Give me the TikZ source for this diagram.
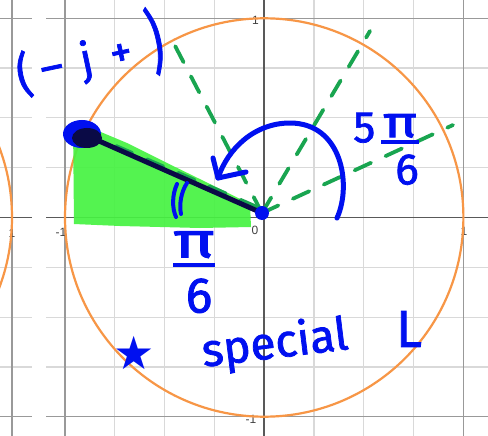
\documentclass[tikz,border=0pt]{standalone}
\usepackage{fontspec}
\setmainfont{Liberation Sans}
\newfontfamily\handfont{Fira Sans}[FakeBold=1.6]
\newfontfamily\symbfont{DejaVu Sans}
\definecolor{penblue}{RGB}{0,16,240}
\definecolor{inknavy}{RGB}{10,10,70}
\definecolor{hlgreen}{RGB}{70,242,66}
\definecolor{dashgreen}{RGB}{25,165,80}
\definecolor{circorange}{RGB}{247,150,70}
\begin{document}
\begin{tikzpicture}[x=1pt,y=-1pt,
  minor/.style={draw=black!15,line width=1.2pt},
  major/.style={draw=black!40,line width=1.2pt},
  axis/.style={draw=black!65,line width=1.8pt},
  tick/.style={font=\fontsize{12}{12}\selectfont,text=black!75,inner sep=0pt},
  pen/.style={draw=penblue,line width=5pt,line cap=round,line join=round},
  hint/.style={draw=dashgreen,line width=3.8pt,line cap=round,dash pattern=on 18pt off 16pt},
  hand/.style={text=penblue,font=\handfont\fontsize{#1}{#1}\selectfont,inner sep=0pt},
]
\useasboundingbox[fill=white] (0,0) rectangle (488,436);
% grid, left strip
\foreach \k in {-3,...,-1,1,2,3} \draw[minor] (0,{217.5+\k*49.8}) -- (32,{217.5+\k*49.8});
\foreach \k in {-4,4} \draw[major] (0,{217.5+\k*49.8}) -- (32,{217.5+\k*49.8});
\draw[major] (12,0) -- (12,436);
\draw[axis] (0,217.5) -- (32,217.5);
% grid, main
\foreach \k in {-3,-2,-1,1,2,3} {
  \draw[minor] ({264.2+\k*49.8},0) -- ({264.2+\k*49.8},436);
  \draw[minor] (46,{217.5+\k*49.8}) -- (488,{217.5+\k*49.8});
}
\foreach \k in {-4,4} {
  \draw[major] ({264.2+\k*49.8},0) -- ({264.2+\k*49.8},436);
  \draw[major] (46,{217.5+\k*49.8}) -- (488,{217.5+\k*49.8});
}
\draw[axis] (46,217.5) -- (488,217.5);
\draw[axis] (264.2,0) -- (264.2,436);
% tick labels
\node[tick] (t1) at (12,233) {1};
\node[tick] (tm1x) at (61,232) {-1};
\node[tick] (t0) at (255,230) {0};
\node[tick] (t1x) at (464,231) {1};
\node[tick] (t1y) at (255.5,20) {1};
\node[tick] (tm1y) at (251,419) {-1};
% circles
\begin{scope}
\clip (0,0) rectangle (32,436);
\draw[circorange,line width=2.2pt] (-187.2,217.5) circle[radius=199.2];
\end{scope}
\draw[circorange,line width=2.2pt] (264.2,217.5) circle[radius=199.2];
% highlighted triangle
\fill[hlgreen,opacity=0.92] (73,124) -- (96,130) -- (127,143) -- (165,162) -- (210,184) -- (250,204)
  -- (251,227) -- (200,228) -- (120,226) -- (74,224) -- cycle;
% points
\coordinate (O) at (262,213);
\coordinate (P) at (90,137);
\coordinate (d1) at (172,40);
\coordinate (d2) at (370,31);
\coordinate (d3) at (453,125);
\coordinate (d4) at (116,146);
\coordinate (d0) at (257,207);
\draw[hint] (O) -- (d1);
\draw[hint] (O) -- (d2);
\draw[hint] (O) -- (d3);
\draw[hint] (d0) -- (d4);
% terminal side
\draw[inknavy,line width=5pt,line cap=round] (O) -- (P);
\fill[penblue] (82,134) ellipse[x radius=19,y radius=14];
\fill[inknavy] (87,138) ellipse[x radius=15,y radius=10];
\fill[penblue] (O) circle[radius=7];
% rotation arrow
\coordinate (a0) at (337,218);
\coordinate (tip) at (218,178);
\coordinate (b1) at (213,158);
\coordinate (b2) at (246,172);
\draw[pen] (a0) .. controls (352,185) and (342,123) .. (290,123) .. controls (255,123) and (228,148) .. (tip);
\draw[pen] (b1) -- (tip) -- (b2);
% angle marks
\draw[pen,line width=4pt] (177,184) .. controls (172,195) and (172,208) .. (176,217);
\draw[pen,line width=4pt] (187,183) .. controls (181,192) and (179,205) .. (181,214);
% handwriting
\node[hand=44,rotate=12] (quad) at (89,55) {\raisebox{-4pt}{\scalebox{1}[1.1]{(}}\hspace{10pt}–\hspace{18pt}j\hspace{18pt}+\hspace{18pt}\raisebox{-6pt}{\scalebox{1}[1.6]{)}}};
\node[hand=44] (ang) at (386,152) {\raisebox{16pt}{5}\hspace{6pt}{\setlength\arrayrulewidth{4pt}\begin{tabular}{@{}c@{}}\scalebox{1.3}[1]{π}\\[-10pt]\hline\rule{0pt}{40pt}\hspace{14pt}6\end{tabular}}};
\node[hand=50] (ref) at (194,275) {{\setlength\arrayrulewidth{4pt}\begin{tabular}{@{}c@{}}\scalebox{1.4}[1]{π}\\[-10pt]\hline\rule{0pt}{46pt}\hspace{10pt}6\end{tabular}}};
\node[text=penblue,font=\symbfont\fontsize{46}{46}\selectfont,inner sep=0pt] (star) at (134,353) {★};
\node[hand=46,rotate=7] (spec) at (275,345) {special};
\node[hand=52] (L) at (409,329) {L};
\end{tikzpicture}
\end{document}
